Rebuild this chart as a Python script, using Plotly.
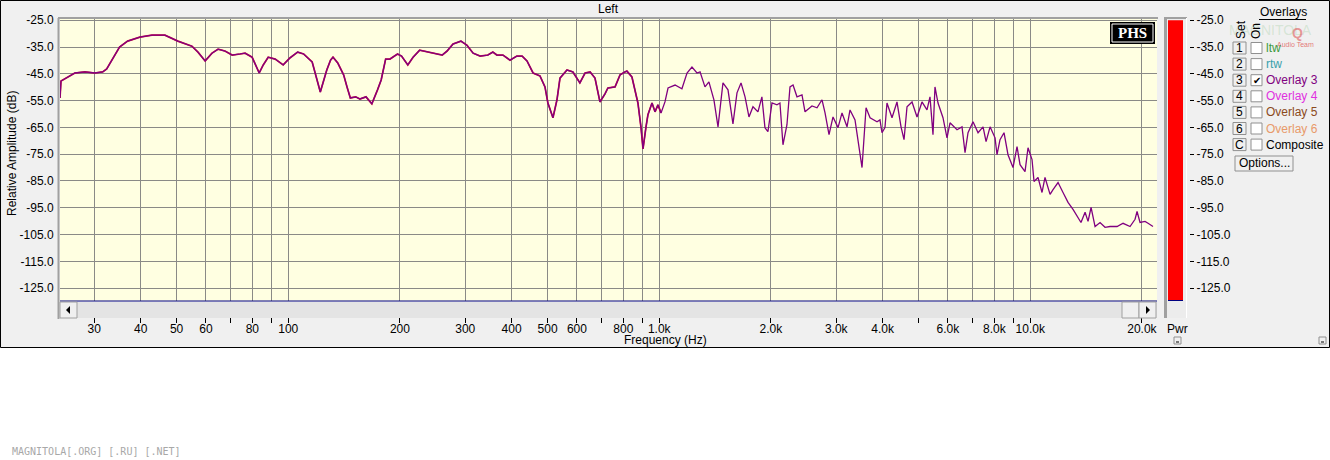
import math
import plotly.graph_objects as go

W, H = 1330, 460

# frequency response (Hz, dB)
freq_hz = [
    24.25, 24.4, 26.6, 28.3, 30.1, 31.6, 32.4, 33.7, 35.1, 36.9, 39.8, 42.9, 46.5, 50.4, 55.0,
    57.1, 59.7, 62.3, 64.7, 67.5, 70.6, 74.2, 76.5, 79.9, 83.5, 85.6, 88.3, 92.2, 96.9, 101,
    106, 110, 116, 122, 127, 130, 132, 136, 141, 144, 147, 152, 156, 162, 168,
    174, 178, 183, 188, 197, 202, 210, 217, 226, 241, 260, 268, 278, 292, 303,
    315, 329, 345, 356, 365, 379, 396, 413, 427, 440, 457, 477, 492, 501, 517,
    530, 540, 564, 585, 611, 631, 651, 671, 692, 714, 727, 760, 784, 808, 818,
    844, 860, 876, 893, 904, 921, 932, 956, 974, 992, 1011, 1036, 1056, 1103, 1151,
    1188, 1225, 1264, 1288, 1328, 1361, 1404, 1440, 1485, 1532, 1580, 1620, 1661, 1703, 1745,
    1789, 1845, 1891, 1927, 1963, 2013, 2076, 2115, 2155, 2209, 2251, 2294, 2351, 2425, 2471,
    2580, 2662, 2746, 2798, 2868, 2940, 3033, 3109, 3207, 3267, 3370, 3433, 3520, 3609, 3700,
    3863, 3935, 3984, 4059, 4110, 4240, 4373, 4484, 4568, 4654, 4801, 4952, 5107, 5268, 5367,
    5468, 5536, 5641, 5818, 5965, 6077, 6347, 6547, 6671, 6796, 7011, 7233, 7461, 7601, 7792,
    8037, 8136, 8289, 8497, 8710, 8985, 9212, 9385, 9681, 9862, 10110, 10237, 10494, 10758, 10959,
    11308, 11519, 11882, 12255, 12641, 13040, 13451, 13702, 14052, 14314, 14585, 14951, 15422, 15907, 16409,
    17137, 17788, 18577, 19163, 19403, 19766, 20391, 20773, 21420,
]
level_db = [
    -54.0, -47.7, -44.7, -44.3, -44.7, -44.3, -43.2, -39.1, -35.0, -32.8, -31.3, -30.6, -30.6, -32.8, -34.7,
    -36.9, -40.2, -37.3, -35.8, -36.5, -38.0, -37.6, -37.3, -38.8, -44.7, -41.7, -38.8, -39.5, -41.7, -39.1,
    -36.9, -37.6, -40.6, -51.8, -43.6, -39.9, -38.8, -41.0, -45.4, -49.9, -54.0, -53.6, -54.4, -53.6, -56.2,
    -51.0, -47.3, -39.5, -39.5, -37.6, -38.4, -41.7, -38.8, -36.2, -36.9, -38.0, -36.5, -33.9, -32.8, -34.3,
    -37.3, -38.4, -38.0, -36.9, -38.0, -38.0, -39.9, -38.4, -38.4, -40.2, -44.7, -45.8, -49.9, -55.9, -61.4,
    -54.7, -46.6, -43.6, -44.3, -48.4, -44.7, -44.3, -46.6, -55.5, -52.5, -50.3, -49.9, -45.4, -44.3, -44.0,
    -46.2, -51.0, -55.9, -65.1, -73.0, -64.8, -60.3, -55.9, -59.2, -56.6, -59.6, -55.5, -50.3, -49.2, -50.6,
    -44.7, -42.5, -44.7, -44.3, -49.9, -48.0, -54.7, -64.8, -48.4, -51.0, -63.7, -52.1, -48.4, -53.6, -61.1,
    -57.3, -59.2, -53.6, -65.1, -66.6, -55.9, -56.6, -55.9, -71.5, -64.0, -49.9, -49.2, -53.6, -52.9, -59.2,
    -57.0, -57.7, -54.7, -59.6, -67.7, -61.1, -65.1, -59.6, -64.8, -58.5, -62.2, -69.6, -80.0, -57.7, -61.4,
    -62.9, -62.2, -67.0, -65.1, -55.9, -61.4, -55.5, -64.8, -69.6, -57.3, -55.5, -61.1, -55.5, -58.5, -53.6,
    -67.7, -49.9, -55.9, -61.4, -68.9, -63.3, -65.9, -64.8, -74.4, -67.0, -62.9, -67.0, -64.8, -70.3, -64.8,
    -68.9, -75.2, -69.6, -67.0, -75.2, -80.0, -72.2, -78.9, -81.5, -72.6, -77.0, -85.2, -83.7, -89.3, -83.7,
    -90.0, -88.2, -85.6, -89.3, -93.0, -95.6, -98.6, -100.5, -96.7, -100.1, -94.9, -102.0, -100.5, -102.3, -102.0,
    -102.0, -100.8, -102.0, -99.3, -96.4, -100.5, -100.1, -100.8, -102.0,
]

x_tick_vals = [30, 40, 50, 60, 70, 80, 90, 100, 200, 300, 400, 500, 600, 700, 800, 900,
               1000, 2000, 3000, 4000, 5000, 6000, 7000, 8000, 9000, 10000, 20000]
x_tick_text = ["30", "40", "50", "60", "", "80", "", "100", "200", "300", "400", "500", "600", "", "800", "",
               "1.0k", "2.0k", "3.0k", "4.0k", "", "6.0k", "", "8.0k", "", "10.0k", "20.0k"]
y_tick_vals = [-25, -35, -45, -55, -65, -75, -85, -95, -105, -115, -125]
y_tick_text = ["-25.0", "-35.0", "-45.0", "-55.0", "-65.0", "-75.0", "-85.0", "-95.0", "-105.0", "-115.0", "-125.0"]

meter_level_db = -25.0

overlay_keys = ["1", "2", "3", "4", "5", "6", "C"]
overlay_names = ["ltw", "rtw", "Overlay 3", "Overlay 4", "Overlay 5", "Overlay 6", "Composite"]
overlay_colors = ["#3c9a3c", "#3aa0ac", "#800080", "#e030e0", "#8b4a1c", "#e89a6a", "#000000"]
overlay_on = [False, False, True, False, False, False, False]

F_MIN, F_MAX = 24.25, 21960
DB_MIN, DB_MAX = -129.8, -24.55
FONT = "Liberation Sans"


def px(x):
    return x / W


def py(y):
    return 1 - y / H


def rect(x0, y0, x1, y1, fill, line=None, lw=1, layer="below"):
    return dict(type="rect", xref="paper", yref="paper", x0=px(x0), x1=px(x1), y0=py(y1), y1=py(y0),
                fillcolor=fill, line=dict(color=line or fill, width=lw if line else 0), layer=layer)


def seg(x0, y0, x1, y1, color, lw=1, layer="below"):
    return dict(type="line", xref="paper", yref="paper", x0=px(x0), x1=px(x1), y0=py(y0), y1=py(y1),
                line=dict(color=color, width=lw), layer=layer)


def tri(pts, color="black"):
    path = "M " + " L ".join(f"{px(a)},{py(b)}" for a, b in pts) + " Z"
    return dict(type="path", xref="paper", yref="paper", path=path, fillcolor=color,
                line=dict(color=color, width=0), layer="above")


def label(x, y, text, size=12, color="black", xanchor="center", angle=0, family=FONT):
    return dict(xref="paper", yref="paper", x=px(x), y=py(y), text=text, showarrow=False,
                xanchor=xanchor, yanchor="middle", textangle=angle,
                font=dict(family=family, size=size, color=color))


fig = go.Figure()

lf_n = sum(1 for f in freq_hz if f < 1000)
fig.add_trace(go.Scatter(x=freq_hz[:lf_n + 1], y=level_db[:lf_n + 1], mode="lines",
                         line=dict(color="#d01030", width=1.7), hoverinfo="skip"))
fig.add_trace(go.Scatter(x=freq_hz, y=level_db, mode="lines",
                         line=dict(color="#800080", width=1.3)))
fig.add_trace(go.Bar(x=[0.5], y=[meter_level_db - DB_MIN], base=[DB_MIN], width=[1.0],
                     xaxis="x2", yaxis="y2", marker=dict(color="#ff0000", line=dict(width=0))))

shapes = [
    rect(0.5, 0.5, 1329.5, 347.5, "#f0f0f0", "#000000", 1),
    rect(60, 19, 1157, 301, "#ffffe1"),
    seg(58, 18, 1158, 18, "#a0a0a0", 2),
    seg(58.5, 18, 58.5, 319, "#a0a0a0", 2),
    # power meter frame
    rect(1164, 17, 1187, 318, "#ececec"),
    seg(1165.5, 17, 1165.5, 318, "#a0a0a0", 3),
    seg(1164, 18, 1187, 18, "#a0a0a0", 2),
    seg(1186.5, 18, 1186.5, 318, "#ffffff", 1),
    seg(1168, 300.5, 1183, 300.5, "#000080", 1, "above"),
    # scrollbar
    seg(60, 301, 1157, 301, "#000080", 1, "above"),
    rect(60, 302, 1157, 318, "#e4e4e4", layer="above"),
    rect(60, 302, 77, 318, "#f0f0f0", "#a0a0a0", 1, "above"),
    rect(1122, 302, 1139, 318, "#f0f0f0", "#a0a0a0", 1, "above"),
    rect(1139, 302, 1156, 318, "#f0f0f0", "#a0a0a0", 1, "above"),
    tri([(66, 310), (70, 306), (70, 314)]),
    tri([(1146, 306), (1150, 310), (1146, 314)]),
    # PHS badge
    rect(1110, 22, 1155, 44, "#000000", layer="above"),
    rect(1112, 24, 1153, 42, "rgba(0,0,0,0)", "#ffffff", 1, "above"),
    # overlays panel
    seg(1259, 19.5, 1306, 19.5, "#000000", 1),
    rect(1235, 156, 1293, 171, "#f0f0f0", "#909090", 1),
    # tiny sizing buttons
    rect(1174, 337, 1181, 344, "#f0f0f0", "#909090", 1),
    rect(1319, 337, 1326, 344, "#f0f0f0", "#909090", 1),
    seg(1176, 342, 1179, 342, "#000000", 1),
    seg(1321, 342, 1324, 342, "#000000", 1),
]

annotations = [
    label(608, 9, "Left"),
    label(665, 340, "Frequency (Hz)"),
    label(12, 154, "Relative Amplitude (dB)", angle=-90),
    label(1132, 33, "<b>PHS</b>", size=15, color="#ffffff", family="Liberation Serif"),
    label(1177, 329, "Pwr"),
    label(1270, 30, "MAGNITOLA", size=14, color="rgba(150,200,150,0.3)"),
    label(1297, 33, "<b>Q</b>", size=14, color="rgba(220,60,60,0.5)"),
    label(1295, 45, "Audio Team", size=7, color="rgba(220,60,60,0.7)"),
    label(1283, 12, "Overlays"),
    label(1241, 30, "Set", angle=-90),
    label(1256, 31, "On", angle=-90),
    label(1264, 163, "Options..."),
    label(10, 451, "MAGNITOLA[.ORG] [.RU] [.NET]", size=10, color="#a8a8a8",
          xanchor="left", family="DejaVu Sans Mono"),
]

for i, key in enumerate(overlay_keys):
    yc = 48 + 16.1 * i
    shapes.append(rect(1233, yc - 6, 1246, yc + 6, "#f0f0f0", "#909090", 1))
    shapes.append(rect(1251, yc - 5.5, 1262, yc + 5.5, "#ffffff", "#909090", 1))
    annotations.append(label(1239.5, yc, key))
    annotations.append(label(1264, yc, overlay_names[i], color=overlay_colors[i], xanchor="left"))
    if overlay_on[i]:
        annotations.append(label(1256.5, yc, "✔", size=10, family="DejaVu Sans"))

fig.update_layout(
    width=W, height=H, autosize=False,
    margin=dict(l=0, r=0, t=0, b=0, pad=0, autoexpand=False),
    paper_bgcolor="#ffffff", plot_bgcolor="#ffffe1",
    showlegend=False,
    font=dict(family=FONT, size=12, color="#000000"),
    shapes=shapes, annotations=annotations,
    xaxis=dict(type="log", range=[math.log10(F_MIN), math.log10(F_MAX)], domain=[px(60), px(1157)],
               tickvals=x_tick_vals, ticktext=x_tick_text, showgrid=True, gridcolor="#8a8a86", gridwidth=1,
               ticks="outside", ticklen=21, tickcolor="#000000", ticklabelstandoff=-4,
               zeroline=False, showline=False, automargin=False,
               tickfont=dict(size=12, color="#000000")),
    yaxis=dict(range=[DB_MIN, DB_MAX], domain=[py(301), py(19)],
               tickvals=y_tick_vals, ticktext=y_tick_text, showgrid=True, gridcolor="#8a8a86", gridwidth=1,
               ticks="outside", ticklen=3, tickcolor="rgba(0,0,0,0)", zeroline=False, showline=False,
               automargin=False, tickfont=dict(size=12, color="#000000")),
    xaxis2=dict(domain=[px(1168), px(1183)], range=[0, 1], visible=False, anchor="y2", automargin=False),
    yaxis2=dict(range=[DB_MIN, DB_MAX], domain=[py(301), py(19)], anchor="free", position=px(1189),
                side="right", tickvals=y_tick_vals, ticktext=y_tick_text, ticks="outside", ticklen=4,
                tickcolor="#000000", showgrid=False, zeroline=False, showline=False, automargin=False,
                tickfont=dict(size=12, color="#000000")),
)

fig.write_html("out.html", config={"displayModeBar": False},
               post_script="document.body.style.margin='0px';document.body.style.overflow='hidden';")
